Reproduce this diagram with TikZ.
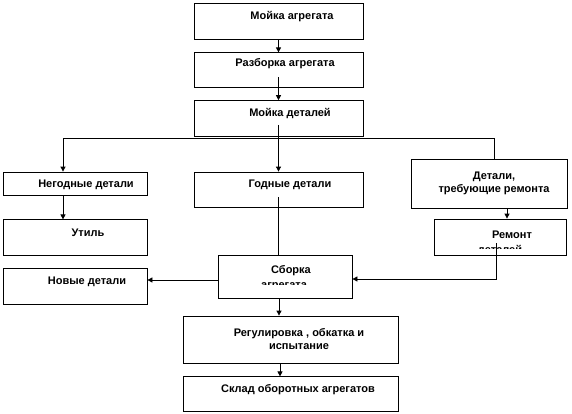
\documentclass[tikz,border=0pt]{standalone}
\usepackage{fontspec}
\setmainfont{Liberation Sans}
\usepackage{tikz}
\usetikzlibrary{positioning,arrows.meta,calc}

\begin{document}
\begin{tikzpicture}[
      x=1pt,y=-1pt,
      every node/.style={font=\bfseries\fontsize{11}{13}\selectfont},
      stage/.style={rectangle,draw=black,line width=0.8pt,inner sep=0pt},
      txt/.style={inner sep=0pt,align=center},
      line/.style={line width=0.8pt,black},
      arr/.style={-{Triangle[length=5pt,width=5pt]},line width=0.8pt,black},
    ]
    \useasboundingbox (0,0) rectangle (572,414);

    % --- Main column ---
    \node[stage,minimum width=169pt,minimum height=36pt] (wash) at (278.5,21) {};
    \node[txt] (washT) at (292,17) {Мойка агрегата};
    \node[stage,minimum width=169pt,minimum height=35pt,below=13pt of wash] (strip) {};
    \node[txt] (stripT) at (285,64) {Разборка агрегата};
    \node[stage,minimum width=169pt,minimum height=36pt,below=12pt of strip] (clean) {};
    \node[txt] (cleanT) at (290,114) {Мойка деталей};

    % --- Sorting of parts ---
    \node[stage,minimum width=144pt,minimum height=23pt] (bad) at (75,183.5) {};
    \node[txt] (badT) at (86,185) {Негодные детали};
    \node[stage,minimum width=169pt,minimum height=35pt] (good) at (278.5,189.5) {};
    \node[txt] (goodT) at (290,185) {Годные детали};
    \node[stage,minimum width=156pt,minimum height=49pt] (needrep) at (489,183.5) {};
    \node[txt] (needrepT) at (494,183) {Детали,\\требующие ремонта};

    \node[stage,minimum width=144pt,minimum height=36pt,below=24pt of bad] (scrap) {};
    \node[txt] (scrapT) at (88,233) {Утиль};
    \node[stage,minimum width=132pt,minimum height=36pt] (fix) at (500,237) {};
    \node[txt] (fixT) at (512,235) {Ремонт};
    \node[stage,minimum width=144pt,minimum height=36pt,below=12pt of scrap] (new) {};
    \node[txt] (newT) at (87,282) {Новые детали};

    % --- Assembly and after ---
    \node[stage,minimum width=134pt,minimum height=43pt] (assy) at (285,276.5) {};
    \node[txt] (assyT) at (291,271) {Сборка};
    \node[stage,minimum width=215pt,minimum height=47pt] (adjust) at (290.5,339.5) {};
    \node[txt] (adjustT) at (299,339.5) {Регулировка , обкатка и\\испытание};
    \node[stage,minimum width=215pt,minimum height=35pt,below=13pt of adjust] (store) {};
    \node[txt] (storeT) at (298,390) {Склад оборотных агрегатов};

    % --- Second lines cut off by their frames ---
    \begin{scope}
      \clip (fix.west |- 0,240) rectangle (fix.east |- 0,248.5);
      \node[txt,anchor=base] (fixT2) at (500,253) {деталей};
    \end{scope}
    \begin{scope}
      \clip (assy.west |- 0,276) rectangle (assy.east |- 0,284);
      \node[txt,anchor=base] (assyT2) at (284,288.5) {агрегата};
    \end{scope}

    % --- Connections ---
    \draw[arr] (wash) -- (strip);
    \draw[arr] ([yshift=11pt]strip.south) -- (clean);
    \draw[line] ([yshift=12pt]clean.south) -- ++(0,13) coordinate (fork);
    \draw[arr] (fork) -| ([xshift=-12pt]bad.north);
    \draw[arr] (fork) -- (good);
    \draw[line] (fork) -| ([xshift=5pt]needrep.north);
    \draw[arr] ([xshift=-12pt]bad.south) -- ([xshift=-12pt]scrap.north);
    \draw[arr] ([xshift=18pt]needrep.south) -- ([xshift=18pt]needrep.south |- fix.north);
    \draw[line] ([yshift=10pt]good.south) -- (good.south |- assy.north);
    \draw[arr] ([xshift=-4pt,yshift=12pt]fix.south) |- ([yshift=-2.5pt]assy.east);
    \draw[arr] ([yshift=-3.5pt]assy.west) -- ([yshift=-3.5pt]assy.west -| new.east);
    \draw[arr] ([xshift=-6pt]assy.south) -- ([xshift=-6pt]assy.south |- adjust.north);
    \draw[arr] ([xshift=-10.5pt]adjust.south) -- ([xshift=-10.5pt]adjust.south |- store.north);

  \end{tikzpicture}
\end{document}
